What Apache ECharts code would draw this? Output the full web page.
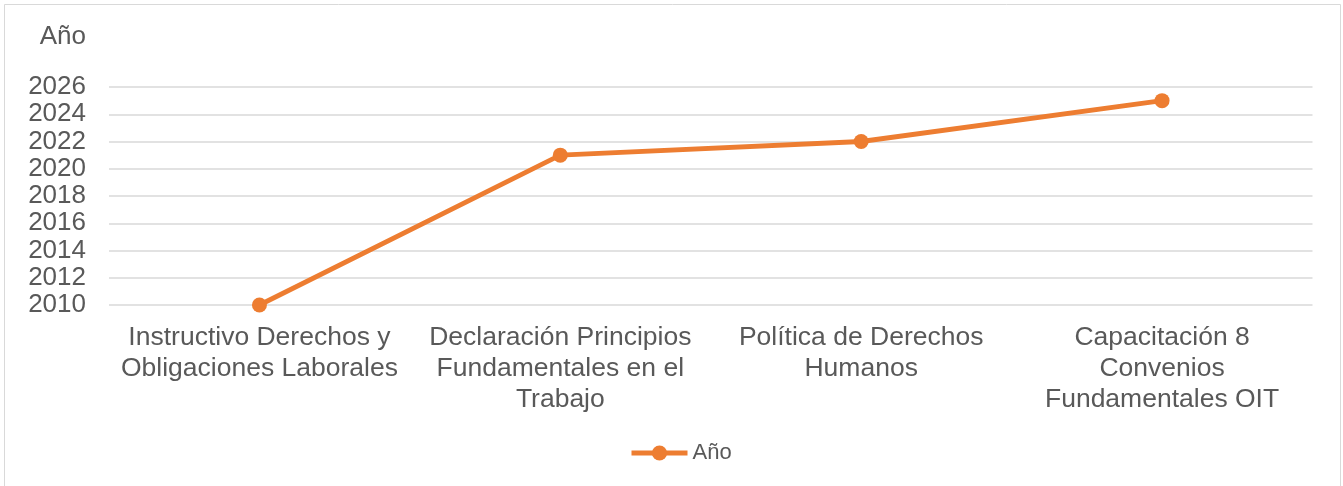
<!DOCTYPE html>
<html>
<head>
<meta charset="utf-8">
<script src="https://cdn.jsdelivr.net/npm/echarts@6/dist/echarts.min.js"></script>
<style>html,body{margin:0;padding:0;background:#fff}#c{width:1343px;height:486px}</style>
</head>
<body>
<div id="c"></div>
<script>
const categories = [
  "Instructivo Derechos y\nObligaciones Laborales",
  "Declaración Principios\nFundamentales en el\nTrabajo",
  "Política de Derechos\nHumanos",
  "Capacitación 8\nConvenios\nFundamentales OIT"
];
const seriesName = "Año";
const values = [2010, 2021, 2022, 2025];
const yMin = 2010, yMax = 2026, yStep = 2;

const chart = echarts.init(document.getElementById('c'), null, {renderer: 'canvas'});
const font = '"Liberation Sans", Arial, sans-serif';
chart.setOption({
  animation: false,
  textStyle: {fontFamily: font},
  graphic: [{
    type: 'rect', silent: true, z: -10,
    shape: {x: 4.5, y: 4.5, width: 1336, height: 500},
    style: {fill: '#fff', stroke: '#d9d9d9', lineWidth: 1}
  }],
  grid: {left: 109, right: 30.5, top: 87, bottom: 181, containLabel: false},
  legend: {
    top: 437, left: 624,
    itemWidth: 56, itemHeight: 19, itemGap: 3,
    lineStyle: {width: 5},
    textStyle: {color: '#595959', fontSize: 22, fontFamily: font},
    data: [seriesName]
  },
  xAxis: {
    type: 'category', data: categories,
    axisLine: {show: false}, axisTick: {show: false},
    axisLabel: {color: '#595959', fontSize: 26.5, lineHeight: 31, margin: 17, interval: 0, fontFamily: font, verticalAlign: 'top'}
  },
  yAxis: {
    type: 'value', min: yMin, max: yMax, interval: yStep,
    name: 'Año', nameLocation: 'end', nameGap: 50,
    nameTextStyle: {color: '#595959', fontSize: 26, align: 'right', verticalAlign: 'middle', padding: [0, 23, 0, 0], fontFamily: font},
    axisLine: {show: false}, axisTick: {show: false},
    axisLabel: {color: '#595959', fontSize: 26, margin: 23, fontFamily: font, formatter: v => String(v)},
    splitLine: {lineStyle: {color: '#d9d9d9', width: 1.5}}
  },
  series: [{
    name: seriesName, type: 'line', data: values,
    symbol: 'circle', symbolSize: 15,
    itemStyle: {color: '#ED7D31'},
    lineStyle: {color: '#ED7D31', width: 4.8}
  }]
});
</script>
</body>
</html>
